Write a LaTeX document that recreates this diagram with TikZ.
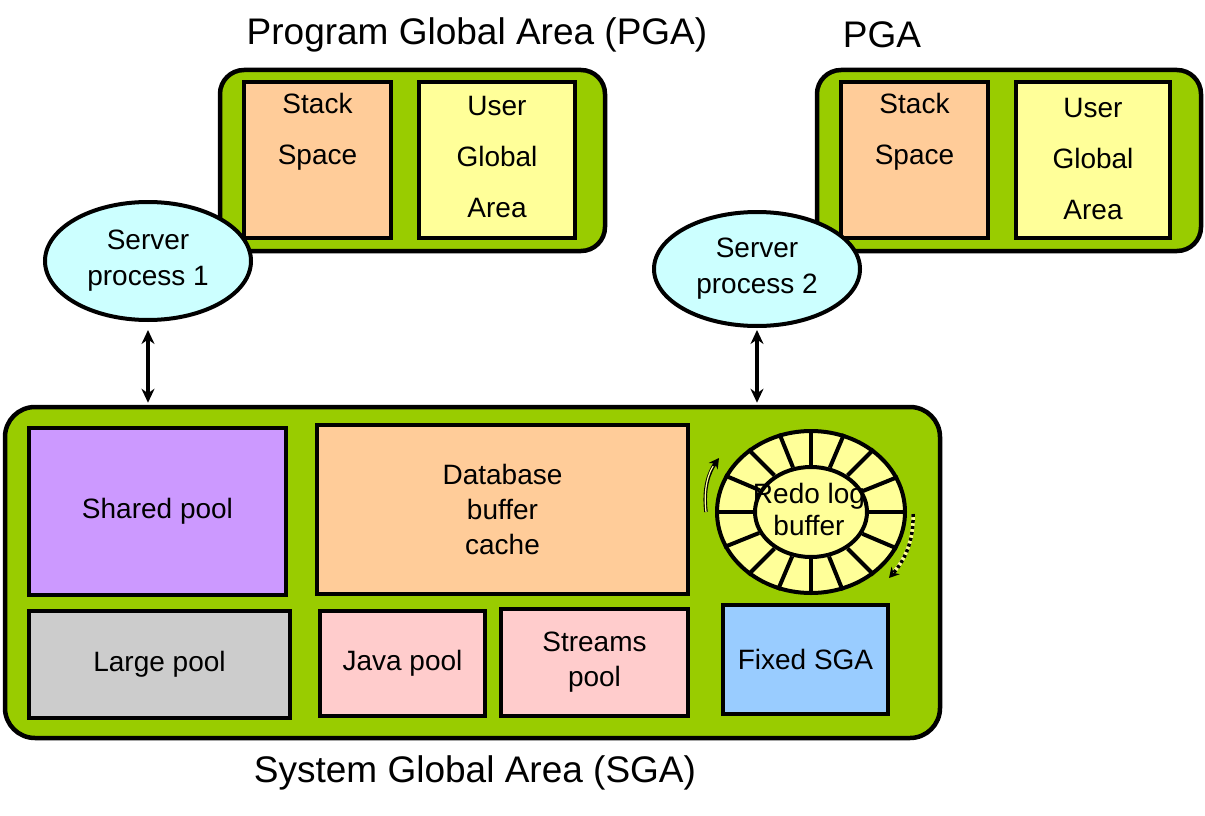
\documentclass[tikz,border=0pt]{standalone}
\usepackage{fontspec}
\setmainfont{Liberation Sans}
\usepackage{xcolor}
\usetikzlibrary{shapes,arrows.meta,positioning,fit,calc}

\definecolor{areagreen}{HTML}{99CC00}
\definecolor{peach}{HTML}{FFCC99}
\definecolor{paleyellow}{HTML}{FFFF99}
\definecolor{palecyan}{HTML}{CCFFFF}
\definecolor{lilac}{HTML}{CC99FF}
\definecolor{palegrey}{HTML}{CCCCCC}
\definecolor{palepink}{HTML}{FFCCCC}
\definecolor{paleblue}{HTML}{99CCFF}

\begin{document}
\begin{tikzpicture}[
        x=1pt, y=-1pt,
        area/.style={rectangle, draw, line width=4.5pt, fill=areagreen, rounded corners=24pt},
        block/.style={rectangle, draw, line width=4pt, font=\fontsize{28}{35}\selectfont, align=center},
        boxtext/.style={font=\fontsize{28}{51}\selectfont, align=center},
        process/.style={ellipse, draw, line width=4pt, fill=palecyan, font=\fontsize{28}{36}\selectfont, align=center},
        title/.style={font=\fontsize{37}{44}\selectfont},
        arrow/.style={{Stealth[length=14pt,width=13pt]}-{Stealth[length=14pt,width=13pt]}, line width=4pt}
      ]
        \useasboundingbox (0,0) rectangle (1205,816);

        % Program global areas
        \node[title] (pgatitle) at (477,35) {Program Global Area (PGA)};
        \node[title] (pga2title) at (882,35) {PGA};

        \node[area, minimum width=385pt, minimum height=181pt] (pga1) at (412.5,160.5) {};
        \node[block, fill=peach, minimum width=147pt, minimum height=156pt] (stack1) at (317.5,160) {};
        \node[block, fill=paleyellow, minimum width=156pt, minimum height=156pt] (uga1) at (497,160) {};
        \node[boxtext] (stack1txt) at ($(stack1)+(0,-28)$) {Stack\\Space};
        \node[boxtext] (uga1txt) at ($(uga1)+(0,-3)$) {User\\Global\\Area};

        \node[area, minimum width=384pt, minimum height=181pt] (pga2) at (1009,160.5) {};
        \node[block, fill=peach, minimum width=147pt, minimum height=156pt] (stack2) at (914.5,160) {};
        \node[block, fill=paleyellow, minimum width=154pt, minimum height=156pt] (uga2) at (1093,160) {};
        \node[boxtext] (stack2txt) at ($(stack2)+(0,-28)$) {Stack\\Space};
        \node[boxtext] (uga2txt) at ($(uga2)+(0,-1)$) {User\\Global\\Area};

        % Server processes
        \node[process, minimum width=206pt, minimum height=118pt] (sp1) at (148,261) {Server\\process 1};
        \node[process, minimum width=206pt, minimum height=114pt] (sp2) at (757,269) {Server\\process 2};

        % System global area
        \node[area, minimum width=935pt, minimum height=331pt, rounded corners=30pt] (sga) at (472.5,572.5) {};
        \node[title] (sgatitle) at (475,773) {System Global Area (SGA)};

        \node[block, fill=lilac, minimum width=257pt, minimum height=167pt] (shared) at (157.5,511.5) {Shared pool};
        \node[block, fill=peach, minimum width=371pt, minimum height=169pt] (dbcache) at (502.5,509.5) {Database\\buffer\\cache};
        \node[block, fill=palegrey, minimum width=261pt, minimum height=107pt] (large) at (159.5,664.5) {Large pool};
        \node[block, fill=palepink, minimum width=165pt, minimum height=105pt] (java) at (402.5,663.5) {Java pool};
        \node[block, fill=palepink, minimum width=187pt, minimum height=107pt] (streams) at (594.5,662.5) {Streams\\pool};
        \node[block, fill=paleblue, minimum width=165pt, minimum height=109pt] (fixed) at (805.5,659.5) {Fixed SGA};

        % Redo log buffer
        \node[ellipse, draw, line width=4pt, fill=paleyellow, minimum width=188pt, minimum height=162pt] (redo) at (811,512) {};
        \node[ellipse, draw, line width=4pt, fill=paleyellow, minimum width=112pt, minimum height=90pt] (redoin) at (811,512) {};
        \foreach \a in {0,22.5,...,337.5}
          \draw[line width=4pt] (redoin.\a) -- (redo.\a);
        \node[font=\fontsize{28}{32}\selectfont, align=center] (redotxt) at (809,509) {Redo log\\buffer};

        % Arrows
        \draw[arrow, shorten <=8pt, shorten >=2pt] (sp1.south) -- (sp1.south |- sga.north);
        \draw[arrow, shorten <=2pt, shorten >=2pt] (sp2.south) -- (sp2.south |- sga.north);
        \draw[line width=3.5pt, -{Stealth[length=10pt,width=11pt]}] (706,512) .. controls (703,488) and (709,472) .. (719,458);
        \draw[line width=1.2pt, paleyellow, shorten >=10pt] (706,512) .. controls (703,488) and (709,472) .. (719,458);
        \draw[line width=3.5pt, paleyellow] (913,514) .. controls (914,540) and (905,560) .. (892,574);
        \draw[line width=3.5pt, dash pattern=on 3pt off 3pt, -{Stealth[length=10pt,width=11pt]}] (913,514) .. controls (914,540) and (905,560) .. (889,578);
      \end{tikzpicture}
\end{document}
